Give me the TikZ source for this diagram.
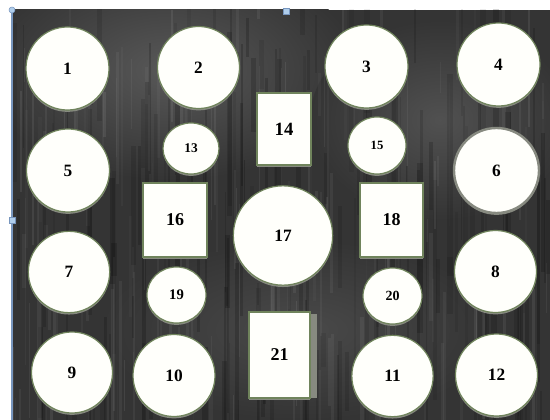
\documentclass[tikz,border=0pt]{standalone}
\usepackage{fontspec}
\setmainfont{Liberation Serif}
\usetikzlibrary{shapes.geometric,shadows}
\definecolor{bg}{RGB}{52,52,52}
\definecolor{bglight}{RGB}{88,88,88}
\definecolor{rimc}{RGB}{112,132,92}
\definecolor{shadowc}{RGB}{135,138,128}
\definecolor{handlec}{RGB}{175,205,235}
\definecolor{edgec}{RGB}{120,150,190}
\definecolor{paper}{RGB}{255,255,251}
\begin{document}
\begin{tikzpicture}[x=0.75pt,y=-0.75pt,
  shape base/.style={draw=rimc, line width=0.9pt, fill=paper, inner sep=0pt,
    drop shadow={shadow xshift=0pt, shadow yshift=-1.4pt, fill=shadowc, opacity=1}},
  disc/.style={shape base, circle, font=\bfseries\fontsize{13}{13}\selectfont},
  smalloval/.style={shape base, ellipse, font=\bfseries\fontsize{10}{10}\selectfont},
  panel/.style={shape base, rectangle, drop shadow={shadow xshift=0pt, shadow yshift=0pt, fill=shadowc, opacity=0},
    font=\bfseries\fontsize{13.5}{13.5}\selectfont},
  handlebox/.style={rectangle, draw=edgec, fill=handlec, line width=0.4pt, minimum size=4.5pt, inner sep=0pt},
  handledot/.style={circle, draw=edgec, fill=handlec, line width=0.4pt, minimum size=4.5pt, inner sep=0pt}
]
\useasboundingbox (0,0) rectangle (550,420);
\fill[white] (0,0) rectangle (550,420);
% dark textured board
\begin{scope}
\clip (12,10) rectangle (550,420);
\fill[bg] (12,10) rectangle (550,420);
\shade[inner color=bglight, outer color=bg] (170,70) ellipse [x radius=190, y radius=110];
\shade[inner color=bglight!80!bg, outer color=bg] (440,120) ellipse [x radius=130, y radius=100];
\shade[inner color=bglight!60!bg, outer color=bg] (300,330) ellipse [x radius=200, y radius=90];
\pgfmathsetseed{11}
\foreach \k in {1,...,160}{
  \pgfmathsetmacro\sx{12+rnd*538}
  \pgfmathsetmacro\sy{-20+rnd*420}
  \pgfmathsetmacro\sl{30+rnd*160}
  \pgfmathsetmacro\sw{0.6+rnd*3}
  \pgfmathsetmacro\so{0.02+rnd*0.06}
  \fill[white, opacity=\so] (\sx,\sy) rectangle ++(\sw,\sl);
}
\foreach \k in {1,...,160}{
  \pgfmathsetmacro\sx{12+rnd*538}
  \pgfmathsetmacro\sy{-20+rnd*420}
  \pgfmathsetmacro\sl{30+rnd*200}
  \pgfmathsetmacro\sw{1+rnd*5}
  \pgfmathsetmacro\so{0.06+rnd*0.14}
  \fill[black, opacity=\so] (\sx,\sy) rectangle ++(\sw,\sl);
}
\end{scope}
\draw[edgec, line width=0.8pt] (12,10) -- (12,420);
% handles
\node[handledot] (h1) at (12,10) {};
\node[handlebox] (h2) at (286,11) {};
\node[handlebox] (h3) at (12,220) {};
% large circles
\node[disc, minimum size=62.25pt] (c1) at (67.5,68.5) {1};
\node[disc, minimum size=61.5pt] (c2) at (198.5,67.5) {2};
\node[disc, minimum size=62.25pt] (c3) at (366.5,66.5) {3};
\node[disc, minimum size=62.25pt] (c4) at (498.5,64.5) {4};
\node[disc, minimum size=62.25pt] (c5) at (68,170.5) {5};
\node[disc, minimum size=63.75pt, line width=1.8pt, draw=shadowc] (c6) at (496.5,170.5) {6};
\node[disc, minimum size=61pt] (c7) at (69,272) {7};
\node[disc, minimum size=61.5pt] (c8) at (495.5,271.5) {8};
\node[disc, minimum size=60.75pt] (c9) at (72,372.5) {9};
\node[disc, minimum size=61.5pt] (c10) at (174,375.5) {10};
\node[disc, minimum size=61pt] (c11) at (392.5,376) {11};
\node[disc, minimum size=61.5pt] (c12) at (496.5,375) {12};
\node[disc, minimum size=74.5pt] (c17) at (283,235.5) {17};
% small ovals
\node[smalloval, minimum width=42pt, minimum height=38.25pt] (c13) at (191,148.5) {13};
\node[smalloval, minimum width=43.5pt, minimum height=42.75pt, font=\bfseries\fontsize{9.5}{9.5}\selectfont] (c15) at (377,145.5) {15};
\node[smalloval, minimum width=44.25pt, minimum height=42pt, font=\bfseries\fontsize{11}{11}\selectfont] (c19) at (176.5,295) {19};
\node[smalloval, minimum width=44.25pt, minimum height=42pt, font=\bfseries\fontsize{10.5}{10.5}\selectfont] (c20) at (392.5,296) {20};
% rectangles
\node[panel, minimum width=40.5pt, minimum height=54pt, font=\bfseries\fontsize{14}{14}\selectfont] (b14) at (284,129) {14};
\node[panel, minimum width=48pt, minimum height=55.5pt] (b16) at (175,220) {16};
\node[panel, minimum width=47.25pt, minimum height=55.5pt] (b18) at (391.5,220) {18};
\fill[shadowc] (308,314) rectangle (317,398);
\node[panel, minimum width=45.75pt, minimum height=64.5pt] (b21) at (279.5,355) {21};
\end{tikzpicture}
\end{document}
